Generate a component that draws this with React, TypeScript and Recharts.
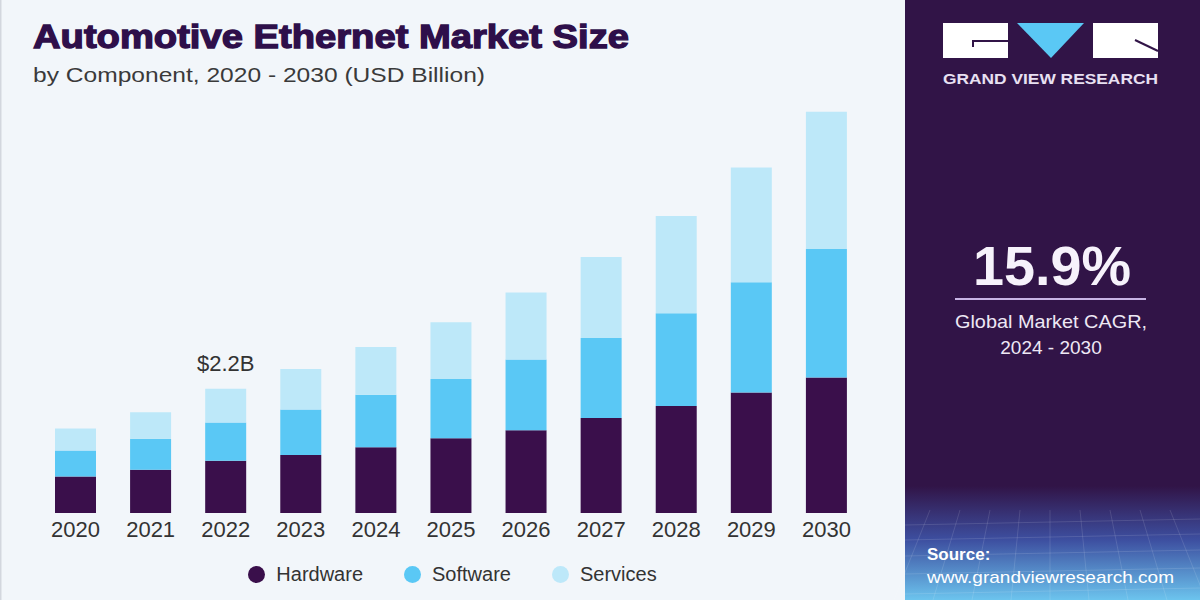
import React from "react";
import { BarChart, Bar, XAxis, YAxis, LabelList } from "recharts";

const years = ["2020", "2021", "2022", "2023", "2024", "2025", "2026", "2027", "2028", "2029", "2030"];
const hardware = [0.65, 0.77, 0.93, 1.03, 1.17, 1.33, 1.47, 1.69, 1.9, 2.14, 2.41];
const software = [0.46, 0.55, 0.68, 0.81, 0.93, 1.05, 1.26, 1.42, 1.65, 1.96, 2.28];
const services = [0.39, 0.47, 0.6, 0.72, 0.85, 1.01, 1.19, 1.44, 1.73, 2.04, 2.44];
const callouts = ["", "", "$2.2B", "", "", "", "", "", "", "", ""];

const series = [
  { key: "hardware", name: "Hardware", color: "#3a0f4b" },
  { key: "software", name: "Software", color: "#5ac8f5" },
  { key: "services", name: "Services", color: "#bde8f9" },
];

const data = years.map((year, i) => ({
  year,
  hardware: hardware[i],
  software: software[i],
  services: services[i],
  callout: callouts[i],
}));

const FONT = '"Liberation Sans", Arial, sans-serif';

// "$2.2B" above the 2022 stack
const Callout = (props: any) => {
  const { x, y, width, value } = props;
  if (!value) return null;
  return (
    <text x={x + width / 2} y={y - 18} textAnchor="middle" fontSize={22} fill="#333" fontFamily={FONT}>
      {value}
    </text>
  );
};

const Legend = () => (
  <div
    style={{
      position: "absolute",
      top: 563,
      left: 0,
      width: 905,
      display: "flex",
      justifyContent: "center",
      alignItems: "center",
      gap: 41,
      fontFamily: FONT,
      fontSize: 20,
      color: "#333",
    }}
  >
    {series.map((s) => (
      <div key={s.key} style={{ display: "flex", alignItems: "center", gap: 11 }}>
        <span style={{ width: 17, height: 17, borderRadius: "50%", background: s.color, display: "inline-block" }} />
        <span>{s.name}</span>
      </div>
    ))}
  </div>
);

const Panel = () => (
  <svg width={1200} height={600} style={{ position: "absolute", left: 0, top: 0 }}>
    <defs>
      <linearGradient id="panelFade" x1="0" y1="0" x2="0" y2="1">
        <stop offset="0" stopColor="#311447" />
        <stop offset="0.81" stopColor="#311447" />
        <stop offset="0.9" stopColor="#3d4fa0" />
        <stop offset="1" stopColor="#6cc4ee" />
      </linearGradient>
    </defs>
    <rect x={0} y={0} width={1.5} height={600} fill="#d3d7de" />
    <text x={33} y={48} fontSize={33} fontWeight={700} fill="#2e0f4a" stroke="#2e0f4a" strokeWidth={1.3}
      fontFamily={FONT} textLength={596} lengthAdjust="spacingAndGlyphs">
      Automotive Ethernet Market Size
    </text>
    <text x={33} y={82} fontSize={21} fill="#3a3a3a" fontFamily={FONT} textLength={452} lengthAdjust="spacingAndGlyphs">
      by Component, 2020 - 2030 (USD Billion)
    </text>

    <rect x={905} y={0} width={295} height={600} fill="url(#panelFade)" />
    {[525, 540, 556, 574, 594].map((y) => (
      <line key={y} x1={905} x2={1200} y1={y} y2={y - 6} stroke="#ffffff" strokeOpacity={0.12} />
    ))}
    {[930, 960, 990, 1020, 1050, 1080, 1110, 1140, 1170].map((x) => (
      <line key={x} x1={x} x2={x + (x - 1050) * 0.3} y1={510} y2={600} stroke="#ffffff" strokeOpacity={0.12} />
    ))}

    <rect x={943} y={23} width={65} height={35} fill="#ffffff" />
    <polyline points="973,47 973,41 1008,41" fill="none" stroke="#311447" strokeWidth={2} />
    <polygon points="1017,23 1084,23 1051,58" fill="#5ac8f5" />
    <rect x={1093} y={23} width={65} height={35} fill="#ffffff" />
    <line x1={1135} y1={40} x2={1158} y2={51} stroke="#311447" strokeWidth={2} />
    <text x={943} y={84} fontSize={14} fontWeight={700} fill="#e8e0f2" fontFamily={FONT}
      textLength={215} lengthAdjust="spacingAndGlyphs">
      GRAND VIEW RESEARCH
    </text>

    <text x={1052} y={285} textAnchor="middle" fontSize={56} fontWeight={700} fill="#f6f2fb" fontFamily={FONT}
      textLength={158} lengthAdjust="spacingAndGlyphs">
      15.9%
    </text>
    <line x1={955} x2={1146} y1={299} y2={299} stroke="#c7b4e4" strokeWidth={2} />
    <text x={1051} y={328} textAnchor="middle" fontSize={19} fill="#eee8f5" fontFamily={FONT}
      textLength={192} lengthAdjust="spacingAndGlyphs">
      Global Market CAGR,
    </text>
    <text x={1051} y={354} textAnchor="middle" fontSize={19} fill="#eee8f5" fontFamily={FONT}>
      2024 - 2030
    </text>

    <text x={927} y={560} fontSize={17} fontWeight={700} fill="#ffffff" fontFamily={FONT}>
      Source:
    </text>
    <text x={927} y={583} fontSize={17} fill="#ffffff" fontFamily={FONT} textLength={247} lengthAdjust="spacingAndGlyphs">
      www.grandviewresearch.com
    </text>
  </svg>
);

export default function App() {
  return (
    <div
      style={{
        position: "absolute",
        left: 0,
        top: 0,
        width: 1200,
        height: 600,
        background: "#f2f6fa",
        overflow: "hidden",
        fontFamily: FONT,
      }}
    >
      <Panel />
      <div style={{ position: "absolute", left: 0, top: 0 }}>
        <BarChart width={905} height={600} data={data} margin={{ top: 91, right: 41, bottom: 57, left: 38 }}>
          <XAxis
            dataKey="year"
            height={30}
            axisLine={false}
            tickLine={false}
            interval={0}
            tick={{ fontSize: 22, fill: "#333", fontFamily: FONT }}
          />
          <YAxis hide domain={[0, 7.5]} />
          {series.map((s, i) => (
            <Bar key={s.key} dataKey={s.key} name={s.name} stackId="a" fill={s.color} barSize={41} isAnimationActive={false}>
              {i === series.length - 1 && <LabelList dataKey="callout" content={<Callout />} />}
            </Bar>
          ))}
        </BarChart>
      </div>
      <Legend />
    </div>
  );
}
